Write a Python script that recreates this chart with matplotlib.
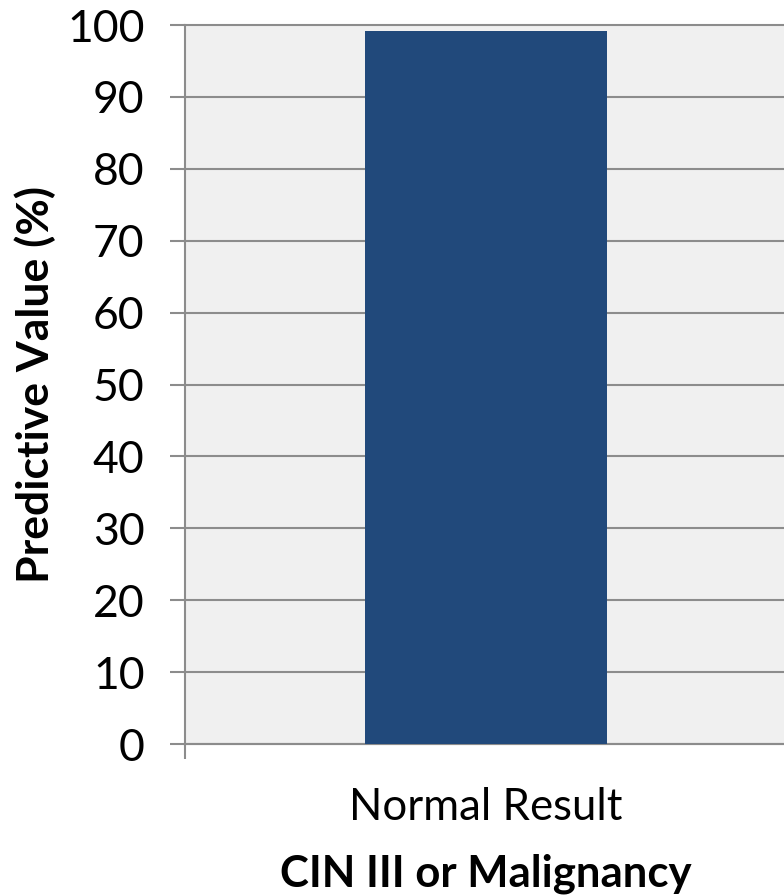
import matplotlib
matplotlib.use("Agg")
import matplotlib.pyplot as plt

categories = ["Normal Result"]
values = [99.2]
yticks = [0, 10, 20, 30, 40, 50, 60, 70, 80, 90, 100]

plt.rcParams['font.family'] = ['Lato', 'DejaVu Sans']

fig = plt.figure(figsize=(7.84, 8.96), dpi=100)
ax = fig.add_axes([185 / 784, 152 / 896, 602 / 784, 719 / 896])
ax.set_facecolor('#f0f0f0')

grid_c = '#8c8c8c'
ax.bar(range(len(categories)), values, width=0.402, color='#21497b', zorder=3)

ax.set_xlim(-0.5, len(categories) - 0.5)
ax.set_ylim(0, 100)
ax.set_yticks(yticks)
ax.set_xticks(range(len(categories)))
ax.set_xticklabels(categories)
ax.set_xticks([-0.5], minor=True)

ax.yaxis.grid(True, color=grid_c, linewidth=1.5, zorder=1)
ax.set_axisbelow(True)
for gl in ax.yaxis.get_gridlines():
    gl.set_clip_on(False)

for side in ('top', 'right'):
    ax.spines[side].set_visible(False)
for side in ('left', 'bottom'):
    ax.spines[side].set_color(grid_c)
    ax.spines[side].set_linewidth(1.5)

ax.tick_params(axis='y', length=11, width=1.5, color=grid_c, labelsize=32, pad=18)
ax.tick_params(axis='x', which='major', length=0, labelsize=31.5, pad=31)
ax.tick_params(axis='x', which='minor', length=11, width=1.5, color=grid_c)

ax.set_ylabel('Predictive Value (%)', fontsize=32, fontweight='bold', labelpad=8)
ax.set_xlabel('CIN III or Malignancy', fontsize=31.5, fontweight='bold', labelpad=18)

fig.savefig('out.png', dpi=100)
